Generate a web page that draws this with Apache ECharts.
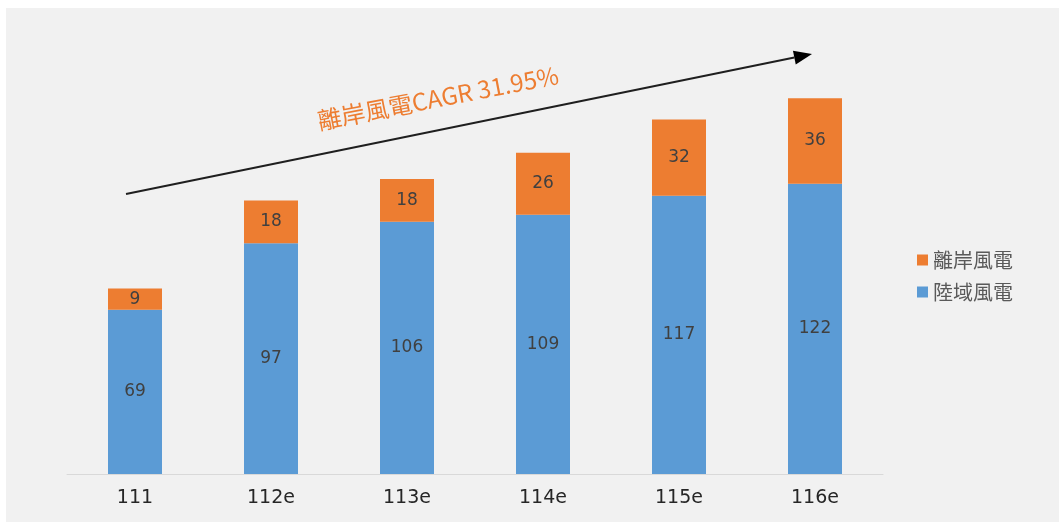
<!DOCTYPE html>
<html>
<head>
<meta charset="utf-8">
<script src="https://cdn.jsdelivr.net/npm/echarts@6/dist/echarts.min.js"></script>
<style>
	html, body { margin: 0; padding: 0; background: #fff; }
	#chart { width: 1059px; height: 522px; }
</style>
</head>
<body>
<div id="chart"></div>
<script>
// 年度（民國年）
var years = ['111', '112e', '113e', '114e', '115e', '116e'];
// 陸域風電
var onshore = [69, 97, 106, 109, 117, 122];
// 離岸風電
var offshore = [9, 18, 18, 26, 32, 36];
var seriesNames = ['離岸風電', '陸域風電'];
var cagrText = '離岸風電CAGR 31.95%';

var myChart = echarts.init(document.getElementById('chart'));

// 趨勢箭頭（註解）
var arrowFrom = [126, 194];
var arrowTo = [812, 54];
var ang = Math.atan2(arrowTo[1] - arrowFrom[1], arrowTo[0] - arrowFrom[0]);
var headLen = 18, headHalf = 7;
var baseX = arrowTo[0] - headLen * Math.cos(ang), baseY = arrowTo[1] - headLen * Math.sin(ang);
var arrowHead = [
	arrowTo,
	[baseX - headHalf * Math.sin(ang), baseY + headHalf * Math.cos(ang)],
	[baseX + headHalf * Math.sin(ang), baseY - headHalf * Math.cos(ang)]
];

var labelStyle = {
	show: true,
	position: 'inside',
	color: '#404040',
	fontSize: 17,
	fontFamily: '"DejaVu Sans", sans-serif'
};

var option = {
	backgroundColor: '#ffffff',
	animation: false,
	graphic: [{
		type: 'rect', z: -10, silent: true,
		shape: { x: 6, y: 8, width: 1053, height: 514 },
		style: { fill: '#f1f1f1' }
	}, {
		type: 'line', z: 10,
		shape: { x1: arrowFrom[0], y1: arrowFrom[1], x2: baseX, y2: baseY },
		style: { stroke: '#1f1f1f', lineWidth: 2 }
	}, {
		type: 'polygon', z: 10,
		shape: { points: arrowHead },
		style: { fill: '#000000' }
	}, {
		type: 'text', z: 10,
		x: 438, y: 98,
		rotation: 0.19,
		style: {
			text: cagrText,
			fill: '#ED7D31',
			font: '24px "Noto Sans CJK TC", "Open Sans", sans-serif',
			align: 'center',
			verticalAlign: 'middle'
		}
	}],
	legend: {
		orient: 'vertical',
		left: 912,
		top: 245,
		itemWidth: 11,
		itemHeight: 11,
		itemGap: 12,
		icon: 'rect',
		data: seriesNames,
		textStyle: {
			color: '#595959',
			fontSize: 20,
			fontFamily: '"Noto Sans CJK TC", sans-serif'
		}
	},
	grid: {
		left: 67,
		right: 176,
		top: 22,
		bottom: 48
	},
	xAxis: {
		type: 'category',
		data: years,
		axisLine: { lineStyle: { color: '#d9d9d9' } },
		axisTick: { show: false },
		axisLabel: {
			color: '#262626',
			fontSize: 19,
			margin: 15,
			fontFamily: '"DejaVu Sans", sans-serif'
		}
	},
	yAxis: {
		type: 'value',
		min: 0,
		max: 190,
		show: false,
		splitLine: { show: false }
	},
	series: [{
		name: '陸域風電',
		type: 'bar',
		stack: 'total',
		barWidth: 54,
		data: onshore,
		itemStyle: { color: '#5B9BD5' },
		label: labelStyle
	}, {
		name: '離岸風電',
		type: 'bar',
		stack: 'total',
		barWidth: 54,
		data: offshore,
		itemStyle: { color: '#ED7D31' },
		label: labelStyle
	}]
};
myChart.setOption(option);
</script>
</body>
</html>
